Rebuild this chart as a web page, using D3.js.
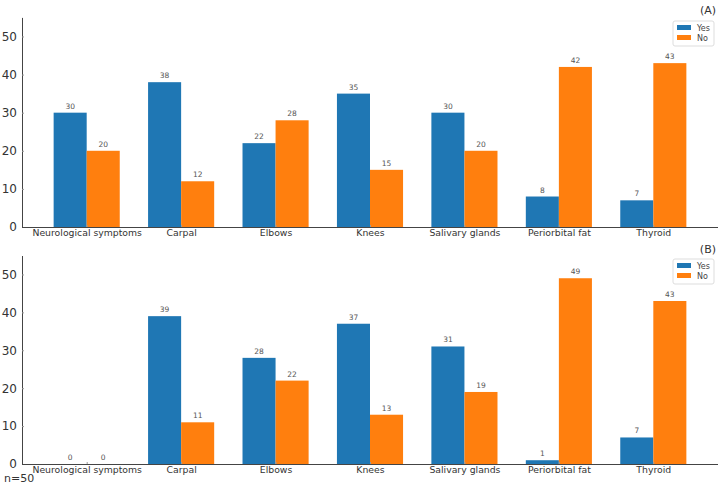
<!DOCTYPE html>
<html>
<head>
<meta charset="utf-8">
<script src="https://cdn.jsdelivr.net/npm/d3@7"></script>
<style>
  body { margin: 0; background: #fff; }
  svg, svg text { font-family: "DejaVu Sans", sans-serif; }
</style>
</head>
<body>
<svg id="chart" width="722" height="487"></svg>
<script>
const categories = ["Neurological symptoms", "Carpal", "Elbows", "Knees", "Salivary glands", "Periorbital fat", "Thyroid"];
const seriesNames = ["Yes", "No"];
const yesA = [30, 38, 22, 35, 30, 8, 7];
const noA = [20, 12, 28, 15, 20, 42, 43];
const yesB = [0, 39, 28, 37, 31, 1, 7];
const noB = [0, 11, 22, 13, 19, 49, 43];
const yTicks = [0, 10, 20, 30, 40, 50];
const colors = ["#1f77b4", "#ff7f0e"];

const left = 22, right = 718
const barW = 0.35

const svg = d3.select("#chart")

// x in "bar units" like matplotlib: positions 0..6, margins around
const x = d3.scaleLinear().domain([-0.685, categories.length - 1 + 0.685]).range([left, right])

const drawPanel = (yes, no, top, bottom, title, legendY) => {
    const y = d3.scaleLinear().domain([0, 55]).range([bottom, top])
    const g = svg.append("g")

    const series = [yes, no]
    series.forEach((vals, s) => {
        g.selectAll(null)
            .data(vals)
            .enter()
            .append("rect")
            .attr("x", (d, i) => x(i + (s === 0 ? -barW : 0)))
            .attr("width", x(barW) - x(0))
            .attr("y", d => y(d))
            .attr("height", d => bottom - y(d))
            .attr("fill", colors[s])

        g.selectAll(null)
            .data(vals)
            .enter()
            .append("text")
            .attr("x", (d, i) => x(i + (s === 0 ? -barW / 2 : barW / 2)))
            .attr("y", d => y(d) - 4)
            .attr("text-anchor", "middle")
            .style("font-size", "7.5px")
            .attr("fill", "#555")
            .text(d => d)
    })

    // axes
    const yAxis = d3.axisLeft(y).tickValues(yTicks).tickSizeInner(-2).tickSizeOuter(0).tickPadding(5)
    const ya = g.append("g").attr("transform", `translate(${left},0)`).call(yAxis).attr("font-family", null)
    ya.select(".domain").attr("stroke", "#444")
    ya.selectAll(".tick line").attr("stroke", "#999")
    ya.selectAll(".tick text").style("font-size", "12px").attr("fill", "#333")

    const xAxis = d3.axisBottom(x).tickValues(d3.range(categories.length)).tickFormat(i => categories[i])
        .tickSizeInner(-2).tickSizeOuter(0).tickPadding(2.5)
    const xa = g.append("g").attr("transform", `translate(0,${bottom})`).call(xAxis).attr("font-family", null)
    xa.select(".domain").attr("stroke", "#444").attr("d", `M${left},0.5H${right}`)
    xa.selectAll(".tick line").attr("stroke", "#999")
    xa.selectAll(".tick text").style("font-size", "9.3px").attr("fill", "#333")

    // title
    g.append("text")
        .attr("x", 716).attr("y", top - 3)
        .attr("text-anchor", "end")
        .style("font-size", "11px")
        .attr("fill", "#333")
        .text(title)

    // legend
    const lg = g.append("g").attr("transform", `translate(673,${legendY})`)
    lg.append("rect").attr("x", 0).attr("y", 0).attr("width", 41).attr("height", 25)
        .attr("fill", "#fff").attr("stroke", "#ddd").attr("rx", 2)
    seriesNames.forEach((name, i) => {
        lg.append("rect").attr("x", 4).attr("y", 4 + i * 10).attr("width", 14).attr("height", 5).attr("fill", colors[i])
        lg.append("text").attr("x", 24).attr("y", 9.5 + i * 10)
            .style("font-size", "8px").attr("fill", "#444").text(name)
    })
}

drawPanel(yesA, noA, 17.4, 227, "(A)", 21)
drawPanel(yesB, noB, 255.5, 464, "(B)", 259)

svg.append("text").attr("x", 4).attr("y", 482).style("font-size", "11px").attr("fill", "#333").text("n=50")
</script>
</body>
</html>
